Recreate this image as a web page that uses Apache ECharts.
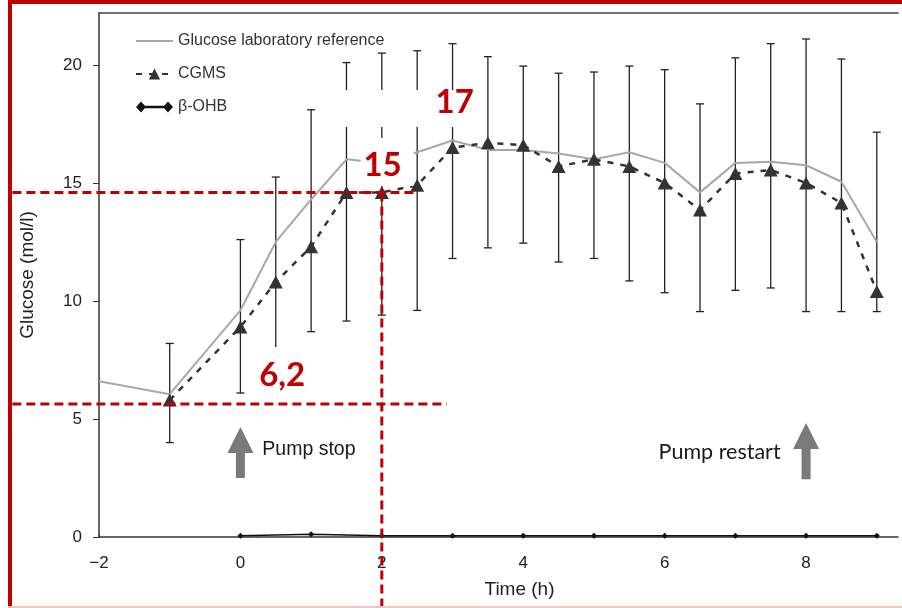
<!DOCTYPE html>
<html><head><meta charset="utf-8">
<script src="https://cdn.jsdelivr.net/npm/echarts@6/dist/echarts.min.js"></script>
<style>html,body{margin:0;padding:0;background:#fff}#c{width:902px;height:608px}</style>
</head><body><div id="c"></div>
<script>
// ---- data ----
const timeLab = [-2, -1, 0, 0.5, 1, 1.5, 2, 2.5, 3, 3.5, 4, 4.5, 5, 5.5, 6, 6.5, 7, 7.5, 8, 8.5, 9];
const glucoseLab = [6.6, 6.05, 9.6, 12.5, 14.3, 16.0, 15.85, 16.3, 16.8, 16.4, 16.4, 16.25, 16.0, 16.3, 15.85, 14.6, 15.85, 15.9, 15.75, 15.05, 12.5];
const timeCGMS = [-1, 0, 0.5, 1, 1.5, 2, 2.5, 3, 3.5, 4, 4.5, 5, 5.5, 6, 6.5, 7, 7.5, 8, 8.5, 9];
const cgms = [5.8, 8.9, 10.8, 12.3, 14.6, 14.6, 14.9, 16.5, 16.7, 16.6, 15.7, 16.0, 15.7, 15.0, 13.85, 15.4, 15.55, 15.0, 14.15, 10.4];
const errLow = [4.0, 6.1, 7.0, 8.7, 9.15, 9.4, 9.6, 11.8, 12.25, 12.45, 11.65, 11.8, 10.85, 10.35, 9.55, 10.45, 10.55, 9.55, 9.55, 9.55];
const errHigh = [8.2, 12.6, 15.25, 18.1, 20.1, 20.5, 20.6, 20.9, 20.35, 19.95, 19.65, 19.7, 19.95, 19.8, 18.35, 20.3, 20.9, 21.1, 20.25, 17.15];
const timeBOHB = [0, 1, 2, 3, 4, 5, 6, 7, 8, 9];
const bohb = [0.05, 0.12, 0.05, 0.05, 0.05, 0.05, 0.05, 0.05, 0.05, 0.05];
const xTicks = [-2, 0, 2, 4, 6, 8];
const yTicks = [0, 5, 10, 15, 20];

// annotations (data coordinates)
const arrowX = [0, 8];
const arrowTip = [4.66, 4.83];
const arrowBase = [2.5, 2.45];
const pumpText = ['Pump stop', 'Pump restart'];
const pumpX = [0.31, 7.64];
const pumpY = [3.69, 3.6];
const noteText = ['15', '17', '6,2'];
const noteX = [2.01, 3.03, 0.59];
const noteY = [15.76, 18.43, 6.86];
const maskX1 = [1.34, 1.70, 0.14];
const maskY1 = [18.94, 16.9, 8.05];
const maskX2 = [3.32, 2.45, 1.0];
const maskY2 = [17.37, 14.87, 5.8];
const guideX1 = [-3.225, -3.225, 2];
const guideY1 = [14.59, 5.64, 14.59];
const guideX2 = [2.45, 2.92, 2];
const guideY2 = [14.59, 5.64, -3.0];

const RED = '#c00000';
const chart = echarts.init(document.getElementById('c'));

const option = {
  animation: false,
  backgroundColor: '#fff',
  grid: { left: 99, top: 13, right: 4, bottom: 71 },
  legend: {
    orient: 'vertical', left: 130, top: 28, itemWidth: 37, itemHeight: 14, itemGap: 17,
    textStyle: { fontFamily: 'Liberation Sans', fontSize: 16, color: '#333', lineHeight: 16 },
    data: [
      { name: 'Glucose laboratory reference', icon: 'path://M0,6 L37,6 L37,8 L0,8 Z' },
      { name: 'CGMS' },
      { name: 'β-OHB', icon: 'path://M0,7 L5,1.5 L10,7 L5,12.5 Z M27,7 L32,1.5 L37,7 L32,12.5 Z M5,5.8 L32,5.8 L32,8.2 L5,8.2 Z' }
    ]
  },
  xAxis: [{
    type: 'value', min: -2, max: 9.3, interval: 2,
    name: 'Time (h)', nameLocation: 'middle', nameGap: 43,
    nameTextStyle: { fontFamily: 'Liberation Sans', fontSize: 19, color: '#222', padding: [0, 0, 0, 42] },
    axisLine: { show: true, onZero: false, lineStyle: { color: '#333', width: 1.5 } },
    axisTick: { show: true, inside: true, length: 3, customValues: xTicks, lineStyle: { color: '#333' } },
    axisLabel: { margin: 18, fontFamily: 'Liberation Sans', fontSize: 17, color: '#222', customValues: xTicks,
      formatter: v => xTicks.includes(v) ? String(v).replace('-', '\u2212') : '' },
    splitLine: { show: false }
  }, {
    type: 'value', position: 'top', min: -2, max: 9.3,
    axisLine: { show: true, onZero: false, lineStyle: { color: '#444', width: 1.5 } },
    axisTick: { show: false }, axisLabel: { show: false }, splitLine: { show: false }
  }],
  yAxis: {
    type: 'value', min: 0, max: 22.2, interval: 5, position: 'left',
    name: 'Glucose (mol/l)', nameLocation: 'middle', nameGap: 62,
    nameTextStyle: { fontFamily: 'Liberation Sans', fontSize: 19, color: '#222' },
    axisLine: { show: true, onZero: false, lineStyle: { color: '#333', width: 1.5 } },
    axisTick: { show: true, length: 6, customValues: yTicks, lineStyle: { color: '#333' } },
    axisLabel: { margin: 17, fontFamily: 'Liberation Sans', fontSize: 17, color: '#222', customValues: yTicks,
      formatter: v => yTicks.includes(v) ? String(v) : '' },
    splitLine: { show: false }
  },
  series: [
    {
      type: 'custom', name: 'errorbars', silent: true, z: 1,
      data: timeCGMS.map((t, i) => [t, errLow[i], errHigh[i]]),
      encode: { x: 0, y: [1, 2] },
      renderItem(params, api) {
        const lo = api.coord([api.value(0), api.value(1)]);
        const hi = api.coord([api.value(0), api.value(2)]);
        const w = 4, st = { stroke: '#222', lineWidth: 1.3 };
        return { type: 'group', children: [
          { type: 'line', shape: { x1: lo[0], y1: lo[1], x2: hi[0], y2: hi[1] }, style: st },
          { type: 'line', shape: { x1: lo[0] - w, y1: lo[1], x2: lo[0] + w, y2: lo[1] }, style: st },
          { type: 'line', shape: { x1: hi[0] - w, y1: hi[1], x2: hi[0] + w, y2: hi[1] }, style: st }
        ] };
      }
    },
    {
      type: 'line', name: 'Glucose laboratory reference', z: 2,
      data: timeLab.map((t, i) => [t, glucoseLab[i]]),
      symbol: 'none', color: '#a8a8a8',
      lineStyle: { color: '#a8a8a8', width: 2 }
    },
    {
      type: 'line', name: 'CGMS', z: 3,
      data: timeCGMS.map((t, i) => [t, cgms[i]]),
      symbol: 'triangle', symbolSize: [14, 13], color: '#333',
      itemStyle: { color: '#333' },
      lineStyle: { color: '#333', width: 2.5, type: [6, 7] }
    },
    {
      type: 'line', name: 'β-OHB', z: 3,
      data: timeBOHB.map((t, i) => [t, bohb[i]]),
      symbol: 'diamond', symbolSize: 6, color: '#111',
      itemStyle: { color: '#111' },
      lineStyle: { color: '#111', width: 1.5 }
    },
    {
      type: 'custom', name: 'arrows', silent: true, z: 4,
      data: arrowX.map((x, i) => [x, arrowTip[i], arrowBase[i]]),
      encode: { x: 0, y: [1, 2] },
      renderItem(params, api) {
        const t = api.coord([api.value(0), api.value(1)]);
        const b = api.coord([api.value(0), api.value(2)]);
        const hw = 13, hh = 26, sw = 4.5, cx = t[0], ty = t[1], by = b[1];
        return { type: 'polygon', shape: { points: [
          [cx, ty], [cx + hw, ty + hh], [cx + sw, ty + hh], [cx + sw, by],
          [cx - sw, by], [cx - sw, ty + hh], [cx - hw, ty + hh]] },
          style: { fill: '#7a7a7a' } };
      }
    },
    {
      type: 'custom', name: 'pumpText', silent: true, z: 4,
      data: pumpX.map((x, i) => [x, pumpY[i]]),
      renderItem(params, api) {
        const p = api.coord([api.value(0), api.value(1)]);
        const i = params.dataIndex;
        return { type: 'text', style: {
          text: pumpText[i], x: p[0], y: p[1],
          align: i === 0 ? 'left' : 'right', verticalAlign: 'middle',
          fontFamily: i === 0 ? 'Liberation Sans' : 'Lato', fontSize: i === 0 ? 19.5 : 21.5,
          fill: '#1a1a1a' } };
      }
    },
    {
      type: 'custom', name: 'masks', silent: true, z: 5,
      data: maskX1.map((x, i) => [x, maskY1[i], maskX2[i], maskY2[i]]),
      encode: { x: [0, 2], y: [1, 3] },
      renderItem(params, api) {
        const a = api.coord([api.value(0), api.value(1)]);
        const b = api.coord([api.value(2), api.value(3)]);
        return { type: 'rect', shape: { x: a[0], y: a[1], width: b[0] - a[0], height: b[1] - a[1] },
          style: { fill: '#ffffff' } };
      }
    },
    {
      type: 'custom', name: 'notes', silent: true, z: 6,
      data: noteX.map((x, i) => [x, noteY[i]]),
      renderItem(params, api) {
        const p = api.coord([api.value(0), api.value(1)]);
        return { type: 'text', style: {
          text: noteText[params.dataIndex], x: p[0], y: p[1], align: 'center', verticalAlign: 'middle',
          fontFamily: 'Lato', fontWeight: 'bold', fontSize: 33, fill: RED } };
      }
    },
    {
      type: 'custom', name: 'guides', silent: true, z: 7,
      data: guideX1.map((x, i) => [x, guideY1[i], guideX2[i], guideY2[i]]),
      encode: { x: [0, 2], y: [1, 3] },
      renderItem(params, api) {
        const a = api.coord([api.value(0), api.value(1)]);
        const b = api.coord([api.value(2), api.value(3)]);
        return { type: 'line', shape: { x1: a[0], y1: a[1], x2: b[0], y2: b[1] },
          style: { stroke: RED, lineWidth: 3, lineDash: [9, 5] } };
      }
    }
  ],
  graphic: [
    { type: 'rect', left: 8, top: 0, shape: { width: 4, height: 608 }, style: { fill: RED }, z: 100 },
    { type: 'rect', left: 8, top: 0, shape: { width: 894, height: 4 }, style: { fill: RED }, z: 100 },
    { type: 'rect', left: 8, top: 606, shape: { width: 894, height: 2 }, style: { fill: '#f2c4c4' }, z: 100 }
  ]
};
chart.setOption(option);
</script>
</body></html>
